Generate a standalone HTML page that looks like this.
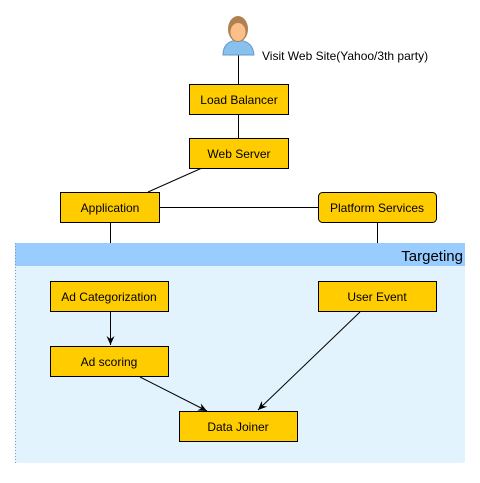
<!DOCTYPE html>
<html><head><style>
body{margin:0;width:480px;height:478px;background:#fff;overflow:hidden;font-family:"Liberation Sans",sans-serif}
</style></head><body>
<svg width="480" height="478" xmlns="http://www.w3.org/2000/svg" font-family="Liberation Sans, sans-serif" font-size="12">
<defs><marker id="a" markerWidth="10" markerHeight="10" refX="9" refY="5" orient="auto" markerUnits="userSpaceOnUse"><path d="M0,1 L9,5 L0,9 L3,5 z" fill="#000"/></marker></defs>
<rect x="15" y="243" width="450" height="220" rx="2" fill="#e3f3fd"/>
<rect x="15" y="243" width="450" height="23" fill="#99ccff"/>
<line x1="15.5" y1="243" x2="15.5" y2="463" stroke="#8899bb" stroke-dasharray="1,2"/>
<text x="463" y="261" text-anchor="end" font-size="15">Targeting</text>
<g stroke="#000" stroke-width="1" fill="none">
<line x1="238.5" y1="54" x2="238.5" y2="84"/>
<line x1="238.5" y1="114" x2="238.5" y2="138"/>
<line x1="202" y1="168" x2="148" y2="192"/>
<line x1="159" y1="207.5" x2="318" y2="207.5"/>
<line x1="110.5" y1="222" x2="110.5" y2="243"/>
<line x1="377.5" y1="222" x2="377.5" y2="243"/>
<line x1="110.5" y1="311" x2="110.5" y2="345" marker-end="url(#a)"/>
<line x1="140" y1="377" x2="207" y2="411" marker-end="url(#a)"/>
<line x1="360" y1="312" x2="258" y2="410" marker-end="url(#a)"/>
</g>
<g fill="#ffcc00" stroke="#000">
<rect x="189.5" y="84.5" width="99" height="30"/>
<rect x="189.5" y="138.5" width="99" height="30"/>
<rect x="60.5" y="192.5" width="99" height="30"/>
<rect x="318.5" y="192.5" width="118" height="30" rx="4"/>
<rect x="50.5" y="281.5" width="118" height="30"/>
<rect x="318.5" y="281.5" width="118" height="30"/>
<rect x="50.5" y="346.5" width="118" height="30"/>
<rect x="179.5" y="411.5" width="118" height="30"/>
</g>
<g text-anchor="middle">
<text x="239" y="104">Load Balancer</text>
<text x="239" y="158">Web Server</text>
<text x="110" y="212">Application</text>
<text x="377" y="212">Platform Services</text>
<text x="109" y="301">Ad Categorization</text>
<text x="377" y="301">User Event</text>
<text x="109" y="366">Ad scoring</text>
<text x="238" y="431">Data Joiner</text>
</g>
<text x="262" y="60">Visit Web Site(Yahoo/3th party)</text>
<path d="M223,55 Q223,41 238,40 Q253,41 254,55 z" fill="#88c0ee" stroke="#6699cc"/>
<ellipse cx="238" cy="29" rx="10" ry="13" fill="#b08050"/>
<ellipse cx="238" cy="32" rx="7.5" ry="9" fill="#fbc08a"/>
</svg>
</body></html>
